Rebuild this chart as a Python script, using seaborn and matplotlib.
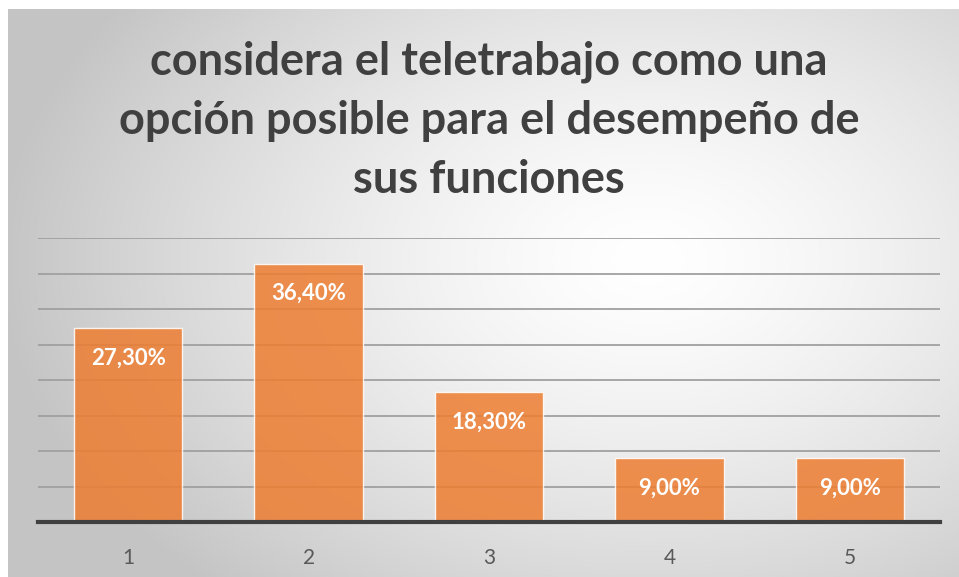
import numpy as np
import pandas as pd
import matplotlib
matplotlib.use("Agg")
import matplotlib.pyplot as plt
import seaborn as sns

categories = ["1", "2", "3", "4", "5"]
values = [27.3, 36.4, 18.3, 9.0, 9.0]
labels = ["27,30%", "36,40%", "18,30%", "9,00%", "9,00%"]
title = "considera el teletrabajo como una\nopción posible para el desempeño de\nsus funciones"

W, H = 959, 577
sns.set_theme(style="white")
plt.rcParams["font.family"] = ["Lato", "DejaVu Sans"]

fig = plt.figure(figsize=(W / 100, H / 100), dpi=100)
fig.patch.set_facecolor("white")

# radial grey-to-white background of the chart area
bg = fig.add_axes([8 / W, 0, (W - 8) / W, (H - 9) / H])
yy, xx = np.mgrid[0:568, 0:951]
d = np.sqrt(((xx - 640) / 650.0) ** 2 + ((yy - 250) / 440.0) ** 2)
d = np.clip(d, 0, 1)
shade = 1.0 - 0.23 * d ** 1.4
img = np.dstack([shade, shade, shade])
bg.imshow(img, aspect="auto", interpolation="bilinear")
bg.set_axis_off()

ax = fig.add_axes([38 / W, 55 / H, (940 - 38) / W, (522 - 238) / H])
ax.set_facecolor("none")

df = pd.DataFrame({"cat": categories, "val": values})
sns.barplot(data=df, x="cat", y="val", color="#ED7D31", width=0.6,
            saturation=1, alpha=0.85, edgecolor=(1, 1, 1, 0.6), linewidth=1,
            ax=ax, zorder=3)

ax.set_ylim(0, 40)
ax.set_xlim(-0.5, 4.5)
ax.set_yticks(np.arange(5, 41, 5))
ax.yaxis.grid(True, color="#a0a0a0", linewidth=1.3, zorder=0)
ax.set_axisbelow(True)
ax.tick_params(axis="y", left=False, labelleft=False)
ax.tick_params(axis="x", bottom=False, labelsize=15, labelcolor="#595959", pad=13)
ax.set_xlabel("")
ax.set_ylabel("")
for s in ["top", "right", "left"]:
    ax.spines[s].set_visible(False)
ax.spines["bottom"].set_color("#404040")
ax.spines["bottom"].set_linewidth(3)
ax.spines["bottom"].set_zorder(4)

ax.bar_label(ax.containers[0], labels=labels, label_type="edge", padding=-29,
             color="white", fontsize=16, fontweight="bold", zorder=5)

fig.text(489 / W, 1 - 121 / H, title, ha="center", va="center", fontsize=32.5,
         fontweight="bold", color="#404040", linespacing=1.5)

fig.savefig("out.png", dpi=100)
